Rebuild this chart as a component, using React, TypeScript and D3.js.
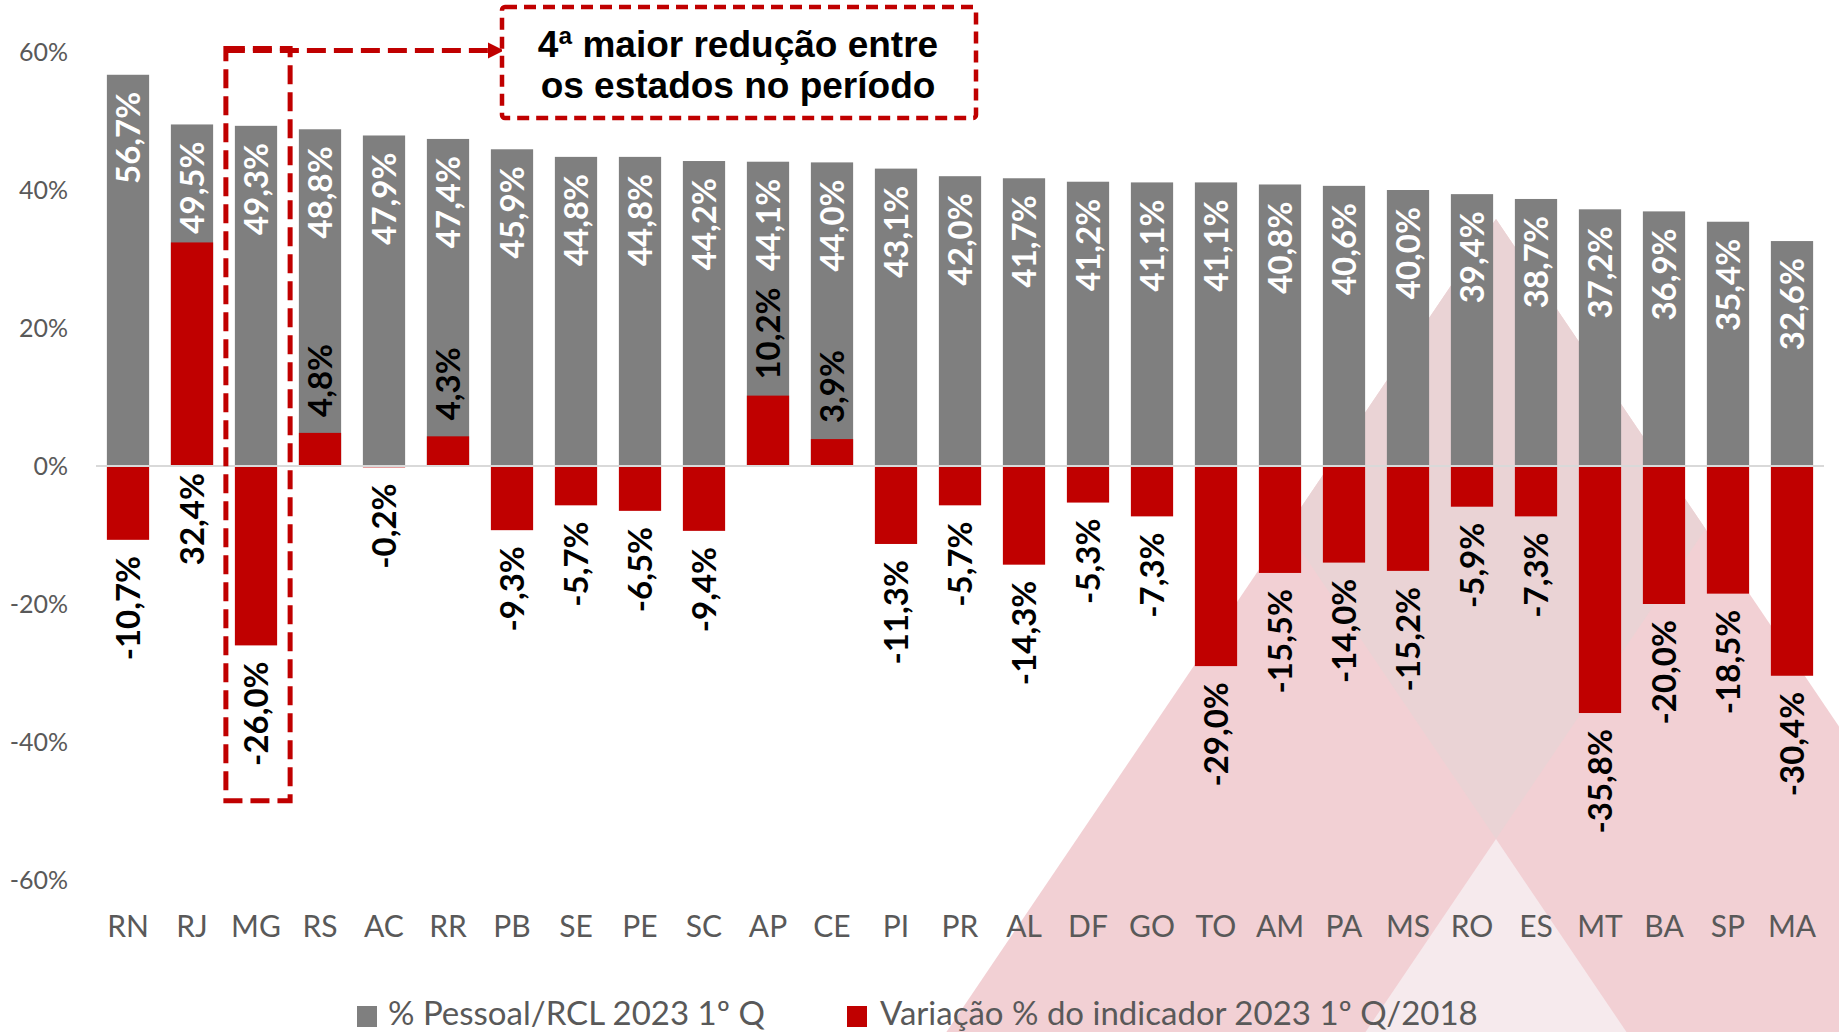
import React from "react";
import * as d3 from "d3";

const categories = ["RN","RJ","MG","RS","AC","RR","PB","SE","PE","SC","AP","CE","PI","PR","AL","DF","GO","TO","AM","PA","MS","RO","ES","MT","BA","SP","MA"];
const pessoal = [56.7,49.5,49.3,48.8,47.9,47.4,45.9,44.8,44.8,44.2,44.1,44.0,43.1,42.0,41.7,41.2,41.1,41.1,40.8,40.6,40.0,39.4,38.7,37.2,36.9,35.4,32.6];
const variacao = [-10.7,32.4,-26.0,4.8,-0.2,4.3,-9.3,-5.7,-6.5,-9.4,10.2,3.9,-11.3,-5.7,-14.3,-5.3,-7.3,-29.0,-15.5,-14.0,-15.2,-5.9,-7.3,-35.8,-20.0,-18.5,-30.4];
const yTicks = [-60,-40,-20,0,20,40,60];
const seriesNames = ["% Pessoal/RCL 2023 1º Q", "Variação % do indicador 2023 1º Q/2018"];
const annotationLines = ["4ª maior redução entre", "os estados no período"];
const highlighted = "MG";

const W = 1839, H = 1032;
const GRAY = "#7f7f7f", RED = "#c00000", AXIS_TEXT = "#595959";
const FONT = "Lato, 'Open Sans', sans-serif";

const locale = d3.formatLocale({ decimal: ",", thousands: ".", grouping: [3], currency: ["R$", ""], minus: "-" });
const fmt = (v: number) => locale.format(".1f")(v) + "%";

export default function App() {
  const x = d3.scaleBand<string>().domain(categories).range([96, 1824]).paddingInner(0.34).paddingOuter(0.17);
  const y = d3.scaleLinear().domain([-60, 60]).range([880, 52]);
  const bw = x.bandwidth();
  const y0 = y(0);
  const gap = 16;
  const labelLen = 92;

  // background logo geometry
  const apex = [1496, 219], inner = [1496, 839], k = 0.676;
  const bigTri = `${apex[0]},${apex[1]} ${apex[0] - k * (H - apex[1])},${H} ${apex[0] + k * (H - apex[1])},${H}`;
  const innerTri = `${inner[0]},${inner[1]} ${inner[0] - k * (H - inner[1])},${H} ${inner[0] + k * (H - inner[1])},${H}`;
  const midY = (apex[1] + inner[1]) / 2, off = k * (inner[1] - apex[1]) / 2;
  const diamond = `${apex[0]},${apex[1]} ${apex[0] - off},${midY} ${inner[0]},${inner[1]} ${apex[0] + off},${midY}`;

  const mgX = x(highlighted)!;
  const boxL = mgX - 9, boxR = mgX + bw + 13;
  const boxTop = y(60.5), boxBot = y(-48.5);

  return (
    <svg width={W} height={H} style={{ position: "absolute", left: 0, top: 0, background: "#fff" }} fontFamily={FONT}>
      <polygon points={bigTri} fill="#f2d0d4" />
      <polygon points={innerTri} fill="#f6eaed" />
      <polygon points={diamond} fill="#ead3d5" />

      {yTicks.map(t => (
        <text key={t} x={68} y={y(t)} dy="0.35em" textAnchor="end" fontSize={25} fill={AXIS_TEXT}>{t}%</text>
      ))}

      {categories.map((c, i) => (
        <rect key={"g" + c} x={x(c)} y={y(pessoal[i])} width={bw} height={y0 - y(pessoal[i])} fill={GRAY} />
      ))}
      {categories.map((c, i) => {
        const v = variacao[i];
        return <rect key={"r" + c} x={x(c)} y={Math.min(y(v), y0)} width={bw} height={Math.abs(y(v) - y0)} fill={RED} />;
      })}

      <line x1={96} x2={1824} y1={y0} y2={y0} stroke="#d9d9d9" strokeWidth={2} />

      {categories.map((c, i) => {
        const cx = x(c)! + bw / 2;
        return (
          <text key={"gl" + c} transform={`translate(${cx},${y(pessoal[i]) + 17}) rotate(-90)`} dy="0.36em" textAnchor="end"
            fontSize={33} fontWeight="bold" fill="#fff">{fmt(pessoal[i])}</text>
        );
      })}
      {categories.map((c, i) => {
        const cx = x(c)! + bw / 2;
        const v = variacao[i];
        let ty: number, anchor: string;
        if (v < 0) { ty = y(v) + gap; anchor = "end"; }
        else {
          const topOfRed = y(v) - gap - labelLen;
          const bottomOfGray = y(pessoal[i]) + 17 + labelLen;
          if (topOfRed < bottomOfGray) { ty = y0 + 7; anchor = "end"; }
          else { ty = y(v) - gap; anchor = "start"; }
        }
        return (
          <text key={"rl" + c} transform={`translate(${cx},${ty}) rotate(-90)`} dy="0.36em" textAnchor={anchor}
            fontSize={33} fontWeight="bold" fill="#000">{fmt(v)}</text>
        );
      })}

      {categories.map(c => (
        <text key={"c" + c} x={x(c)! + bw / 2} y={937} textAnchor="middle" fontSize={30} fill={AXIS_TEXT}>{c}</text>
      ))}

      {/* annotation */}
      <rect x={boxL} y={boxTop} width={boxR - boxL} height={boxBot - boxTop} fill="none" stroke={RED} strokeWidth={5} strokeDasharray="19 8" />
      <line x1={boxL} x2={490} y1={boxTop + 2} y2={boxTop + 2} stroke={RED} strokeWidth={5} strokeDasharray="19 8" />
      <polygon points={`${488},${boxTop - 6} ${504},${boxTop + 2} ${488},${boxTop + 10}`} fill={RED} />
      <rect x={502} y={7} width={474} height={111} rx={3} fill="#fff" stroke={RED} strokeWidth={4.5} strokeDasharray="12 7" />
      {annotationLines.map((l, i) => (
        <text key={l} x={738} y={57 + i * 41} textAnchor="middle" fontFamily="'Liberation Sans', Arial, sans-serif" fontWeight="bold" fontSize={37} fill="#000">{l}</text>
      ))}

      {/* legend */}
      <rect x={357} y={1006} width={20} height={21} fill={GRAY} />
      <text x={388} y={1025} fontSize={33} fill={AXIS_TEXT}>{seriesNames[0]}</text>
      <rect x={847} y={1006} width={20} height={21} fill={RED} />
      <text x={880} y={1025} fontSize={33} fill={AXIS_TEXT}>{seriesNames[1]}</text>
    </svg>
  );
}
